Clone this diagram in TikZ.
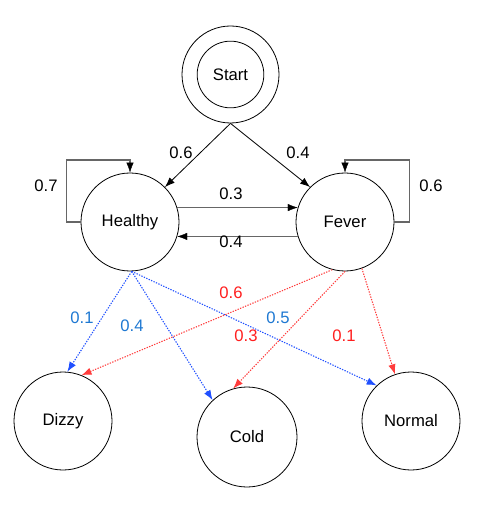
\documentclass[tikz,border=0pt]{standalone}
\usepackage{fontspec}
\setmainfont{Liberation Sans}
\usetikzlibrary{arrows.meta}

\definecolor{embl}{RGB}{32,80,255}
\definecolor{embltext}{RGB}{30,120,210}
\definecolor{emred}{RGB}{255,60,60}
\definecolor{emredtext}{RGB}{255,30,30}

\begin{document}
\begin{tikzpicture}[x=0.75pt,y=-0.75pt,
        font=\fontsize{12.5}{15}\selectfont,
        state/.style={draw=black,circle,line width=0.6pt,minimum size=73.5pt,inner sep=0pt},
        trans/.style={draw=black,line width=0.6pt,-{Latex[length=7.5pt,width=5.5pt]}},
        hv/.style={draw=black!60,line width=1.1pt,-{Latex[length=7.5pt,width=5.5pt,color=black,line width=0.3pt]}},
        emh/.style={draw=embl,line width=0.8pt,dash pattern=on 1pt off 1pt,-{Latex[length=7.5pt,width=5.5pt,fill=embl]}},
        emf/.style={draw=emred,line width=0.8pt,dash pattern=on 1pt off 1pt,-{Latex[length=7.5pt,width=5.5pt,fill=emred]}},
        hl/.style={text=embltext},
        fl/.style={text=emredtext}
      ]
      \useasboundingbox (0,0) rectangle (482,509);
      % states
      \node[state,minimum size=72.75pt] (Start) at (230.5,74.5) {};
      \node[state,minimum size=50pt] (StartIn) at (Start) {Start};
      \node[state] (Healthy) at (130,222) {Healthy};
      \node[state] (Fever) at (345,222) {Fever};
      \node[state] (Dizzy) at (63,421) {Dizzy};
      \node[state,minimum size=75pt] (Cold) at (247,437) {Cold};
      \node[state] (Normal) at (411,421) {Normal};
      % transitions
      \draw[trans] (Start.south) -- (Healthy.45);
      \draw[trans] (Start.south) -- (Fever.135);
      \draw[hv] (Healthy.17) -- (Fever.163);
      \draw[hv] (Fever.197) -- (Healthy.343);
      \draw[hv] (Healthy.west) -- ++(-14,0) -- ++(0,-62) -| (Healthy.north);
      \draw[hv] (Fever.east) -- ++(15,0) -- ++(0,-62) -| (Fever.north);
      \node (p1) at (181,153) {0.6};
      \node (p2) at (298,153) {0.4};
      \node (p3) at (231,194) {0.3};
      \node (p4) at (231,242) {0.4};
      \node (p5) at (46,186) {0.7};
      \node (p6) at (431,186) {0.6};
      % emissions
      \draw[emh] (Healthy.272) -- (Dizzy.85);
      \draw[emh] (Healthy.272) -- (Cold.133);
      \draw[emh] (Healthy.272) -- (Normal.134);
      \draw[emf] (Fever.255) -- (Dizzy.68);
      \draw[emf] (Fever.270) -- (Cold.106);
      \draw[emf] (Fever.290) -- (Normal.109);
      \node[hl] (e1) at (82,318) {0.1};
      \node[hl] (e2) at (132,326) {0.4};
      \node[hl] (e3) at (278,318) {0.5};
      \node[fl] (e4) at (231,293) {0.6};
      \node[fl] (e5) at (246,336) {0.3};
      \node[fl] (e6) at (344,336) {0.1};
    \end{tikzpicture}
\end{document}
